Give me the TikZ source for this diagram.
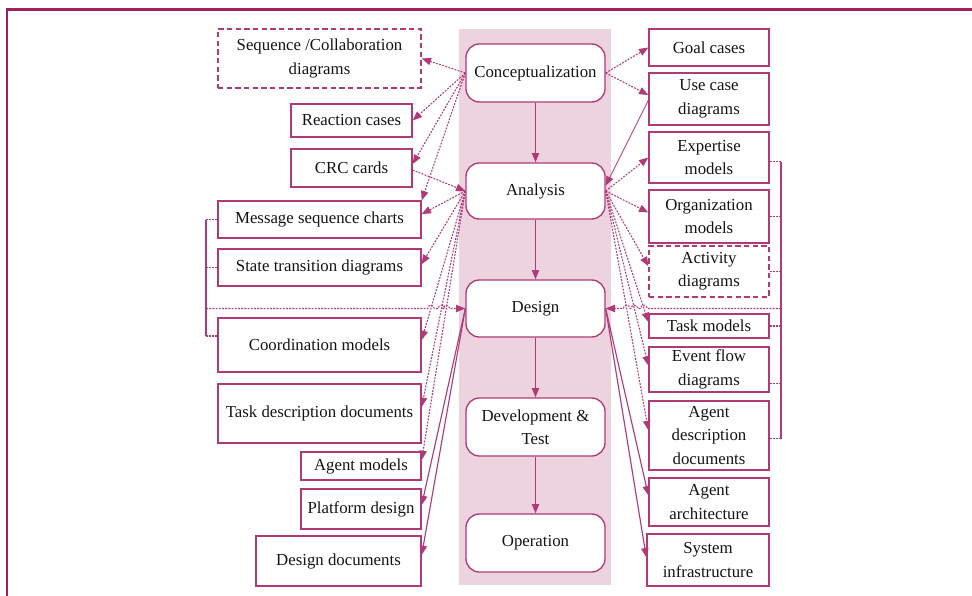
\documentclass[tikz,border=0pt]{standalone}
\usepackage{fontspec}
\setmainfont{Liberation Serif}
\usetikzlibrary{arrows.meta,calc}
\definecolor{mag}{RGB}{176,58,120}
\definecolor{framec}{RGB}{160,32,92}
\definecolor{colfill}{RGB}{236,211,222}
\definecolor{txt}{RGB}{20,20,20}

% box placed by its corners (x1,y1)-(x2,y2), given in pixel units
\newcommand\pbox[7][]{%
  \pgfmathsetmacro\pbw{(#5-#3)*0.75}%
  \pgfmathsetmacro\pbh{(#6-#4)*0.75}%
  \node[box,#1,minimum width=\pbw pt,minimum height=\pbh pt] (#2) at ({(#3+#5)/2},{(#4+#6)/2}) {#7};}

\tikzset{
  box/.style={draw=mag, line width=1pt, fill=white, text=txt, align=center,
    inner sep=0pt, font=\fontsize{12.6}{17.6}\selectfont},
  dbox/.style={dash pattern=on 4pt off 2.5pt},
  phase/.style={rounded corners=10pt},
  tip/.style={-{Triangle[length=7pt,width=5.5pt]}},
  dotln/.style={mag, line width=0.8pt, dash pattern=on 1.4pt off 1pt},
  dotarr/.style={dotln, tip},
  solarr/.style={mag, line width=0.85pt, tip},
  brk/.style={mag, line width=0.8pt},
}

\begin{document}
\begin{tikzpicture}[x=0.75pt,y=-0.75pt]
\useasboundingbox (0,0) rectangle (972,596);

% frame
\draw[framec, line width=2pt] (7,596) -- (7,9.5) -- (972,9.5);

% phase column
\fill[colfill] (459,29) rectangle (611,585);

% phases
\pbox[phase]{concept}{466}{44}{605}{102}{Conceptualization}
\pbox[phase]{analysis}{466}{163}{605}{219}{Analysis}
\pbox[phase]{design}{466}{280}{605}{337}{Design}
\pbox[phase]{dev}{466}{398}{605}{456}{Development \&\\Test}
\pbox[phase]{oper}{466}{514}{605}{572}{Operation}

% left work products
\pbox[dbox]{seq}{218}{29}{421}{88}{Sequence /Collaboration\\diagrams}
\pbox{react}{291}{104}{412}{137}{Reaction cases}
\pbox{crc}{291}{149}{412}{187}{CRC cards}
\pbox{msg}{218}{201}{421}{238}{Message sequence charts}
\pbox{state}{218}{249}{421}{286}{State transition diagrams}
\pbox{coord}{218}{318}{421}{372}{Coordination models}
\pbox{taskdoc}{218}{384}{421}{443}{Task description documents}
\pbox{agentm}{301}{452}{421}{480}{Agent models}
\pbox{plat}{301}{489}{421}{529}{Platform design}
\pbox{ddoc}{256}{536}{421}{586}{Design documents}

% right work products
\pbox{goal}{649}{29}{769}{66}{Goal cases}
\pbox{usecase}{649}{73}{769}{125}{Use case\\diagrams}
\pbox{expert}{649}{132}{769}{183}{Expertise\\models}
\pbox{org}{649}{190}{769}{243}{Organization\\models}
\pbox[dbox]{activity}{649}{246}{769}{297}{Activity\\diagrams}
\pbox{taskm}{649}{314}{769}{338}{Task models}
\pbox{event}{649}{347}{769}{392}{Event flow\\diagrams}
\pbox{agentd}{649}{401}{769}{470}{Agent\\description\\documents}
\pbox{agenta}{649}{478}{769}{526}{Agent\\architecture}
\pbox{sysinf}{647}{534}{769}{586}{System\\infrastructure}

% phase sequence
\draw[solarr] (concept) -- (analysis);
\draw[solarr] (analysis) -- (design);
\draw[solarr] (design) -- (dev);
\draw[solarr] (dev) -- (oper);

% attachment points
\coordinate (crcIn) at ([yshift=3pt]crc.east);
\coordinate (crcOut) at ([yshift=-1.5pt]crc.east);
\coordinate (msgIn) at ([yshift=4pt]msg.east);
\coordinate (stateIn) at ([yshift=2.5pt]state.east);
\coordinate (coordIn) at ([yshift=3.75pt]coord.east);
\coordinate (taskdocIn) at ([yshift=5pt]taskdoc.east);
\coordinate (agentmIn) at ([yshift=4.5pt]agentm.east);
\coordinate (platIn) at ([yshift=3pt]plat.east);
\coordinate (ddocIn) at ([yshift=4.5pt]ddoc.east);
\coordinate (usecaseIn) at ([yshift=3pt]usecase.west);
\coordinate (usecaseOut) at ([yshift=-1pt]usecase.west);
\coordinate (anaIn) at ([yshift=4pt]analysis.east);
\coordinate (orgIn) at ([yshift=3pt]org.west);
\coordinate (activityIn) at ([yshift=4pt]activity.west);
\coordinate (taskmIn) at ([yshift=3pt]taskm.west);
\coordinate (eventIn) at ([yshift=3pt]event.west);
\coordinate (agentdIn) at ([yshift=4pt]agentd.west);
\coordinate (agentaIn) at ([yshift=5pt]agenta.west);
\coordinate (sysinfIn) at ([yshift=2pt]sysinf.west);

% conceptualization products
\draw[dotarr] (concept.west) -- (seq.east);
\draw[dotarr] (concept.west) -- (react.east);
\draw[dotarr] (concept.west) -- (crcIn);
\draw[dotarr] (concept.west) -- (msg.north east);
\draw[dotarr] (concept.east) -- (goal.west);
\draw[dotarr] (concept.east) -- (usecaseIn);

% inputs to analysis
\draw[dotarr] (crcOut) -- (analysis.west);
\draw[solarr, line width=0.6pt] (usecaseOut) -- (anaIn);

% analysis products
\draw[dotarr] (analysis.west) -- (msgIn);
\draw[dotarr] (analysis.west) -- (stateIn);
\draw[dotarr] (analysis.west) -- (coordIn);
\draw[dotarr] (analysis.west) -- (taskdocIn);
\draw[dotarr] (analysis.west) -- (agentmIn);
\draw[dotarr] (analysis.east) -- (expert.west);
\draw[dotarr] (analysis.east) -- (orgIn);
\draw[dotarr] (analysis.east) -- (activityIn);
\draw[dotarr] (analysis.east) -- (taskmIn);
\draw[dotarr] (analysis.east) -- (eventIn);
\draw[dotarr] (analysis.east) -- (agentdIn);

% design products
\draw[solarr] (design.west) -- (platIn);
\draw[solarr] (design.west) -- (ddocIn);
\draw[solarr] (design.east) -- (agentaIn);
\draw[solarr] (design.east) -- (sysinfIn);

% left bracket feeding design
\coordinate (lbx) at (206,0);
\coordinate (coordTick) at ([yshift=6.75pt]coord.west);
\draw[dotln] (msg.west) -- (msg.west -| lbx);
\draw[dotln] (state.west) -- (state.west -| lbx);
\draw[dotln] (coordTick) -- (coordTick -| lbx);
\draw[brk] (msg.west -| lbx) -- (coordTick -| lbx);
\coordinate (lbm) at (lbx |- design.west);
\coordinate (hl1) at (intersection of analysis.west--coordIn and lbm--design.west);
\coordinate (hl2) at (intersection of analysis.west--taskdocIn and lbm--design.west);
\coordinate (hl3) at (intersection of analysis.west--agentmIn and lbm--design.west);
\draw[dotarr] (lbm) -- ([xshift=-2.5pt]hl1) arc[start angle=180,end angle=0,radius=2.5pt]
  -- ([xshift=-2.5pt]hl2) arc[start angle=180,end angle=0,radius=2.5pt]
  -- ([xshift=-2.5pt]hl3) arc[start angle=180,end angle=0,radius=2.5pt]
  -- (design.west);

% right bracket feeding design
\coordinate (rbx) at (781,0);
\coordinate (expTick) at ([yshift=-3pt]expert.east);
\coordinate (eventTick) at ([yshift=-10.5pt]event.east);
\coordinate (agentdTick) at ([yshift=-2.5pt]agentd.east);
\draw[dotln] (expTick) -- (expTick -| rbx);
\draw[dotln] (org.east) -- (org.east -| rbx);
\draw[dotln] (activity.east) -- (activity.east -| rbx);
\draw[dotln] (taskm.east) -- (taskm.east -| rbx);
\draw[dotln] (eventTick) -- (eventTick -| rbx);
\draw[dotln] (agentdTick) -- (agentdTick -| rbx);
\draw[brk] (expTick -| rbx) -- (agentdTick -| rbx);
\coordinate (rbm) at (rbx |- design.east);
\coordinate (hr1) at (intersection of analysis.east--taskmIn and rbm--design.east);
\coordinate (hr2) at (intersection of analysis.east--eventIn and rbm--design.east);
\coordinate (hr3) at (intersection of analysis.east--agentdIn and rbm--design.east);
\draw[dotarr] (rbm) -- ([xshift=2.5pt]hr1) arc[start angle=0,end angle=180,radius=2.5pt]
  -- ([xshift=2.5pt]hr2) arc[start angle=0,end angle=180,radius=2.5pt]
  -- ([xshift=2.5pt]hr3) arc[start angle=0,end angle=180,radius=2.5pt]
  -- (design.east);
\end{tikzpicture}
\end{document}
